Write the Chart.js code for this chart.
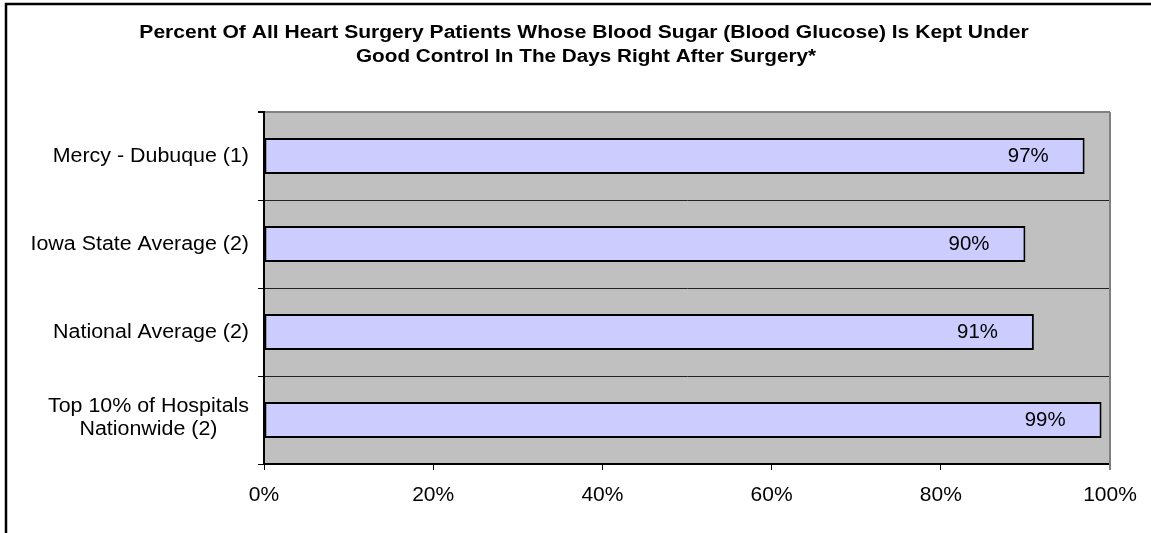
<!DOCTYPE html>
<html>
<head>
<meta charset="utf-8">
<title>Blood Sugar Control</title>
<script src="https://cdn.jsdelivr.net/npm/chart.js@4.4.1/dist/chart.umd.min.js"></script>
<style>
  body { margin: 0; background: #fff; }
  canvas { display: block; }
</style>
</head>
<body>
<canvas id="myChart" width="1151" height="533"></canvas>
<script>
var categories = [
  "Mercy - Dubuque (1)",
  "Iowa State Average (2)",
  "National Average (2)",
  ["Top 10% of Hospitals", "Nationwide (2)"]
];
var percents = [97, 90, 91, 99];
var xTicks = [0, 20, 40, 60, 80, 100];
var titleLines = [
  "Percent Of All Heart Surgery Patients Whose Blood Sugar (Blood Glucose) Is Kept Under",
  "Good Control In The Days Right After Surgery*"
];

var font = "Liberation Sans, Arial, sans-serif";

// text squeezed/stretched sideways, the source picture is a bit wider than tall
function wideText(c, txt, x, y, sx) {
  c.save();
  c.translate(x, y);
  c.scale(sx, 1);
  c.fillText(txt, 0, 0);
  c.restore();
}

// background, frame, title, category labels and value labels
var decor = {
  id: "decor",
  beforeDraw: function (chart) {
    var c = chart.ctx, a = chart.chartArea;
    c.save();
    c.fillStyle = "#fff";
    c.fillRect(0, 0, chart.width, chart.height);
    c.fillStyle = "#c0c0c0";
    c.fillRect(a.left, a.top, a.right - a.left, a.bottom - a.top);
    c.restore();
  },
  beforeDatasetsDraw: function (chart) {
    var c = chart.ctx, a = chart.chartArea;
    c.save();
    c.strokeStyle = "#808080";
    c.lineWidth = 2;
    c.beginPath();
    c.moveTo(a.right, a.top);
    c.lineTo(a.right, a.bottom + 6);
    c.stroke();
    c.restore();
  },
  afterDraw: function (chart) {
    var c = chart.ctx;
    var y = chart.scales.y;
    c.save();
    // outer frame, runs off the right and bottom edge
    c.strokeStyle = "#000";
    c.lineWidth = 2.5;
    c.strokeRect(6, 4, chart.width + 20, chart.height + 20);

    c.fillStyle = "#000";
    c.textAlign = "center";
    c.textBaseline = "middle";
    c.font = "bold 18px " + font;
    wideText(c, titleLines[0], 584, 33, 1.17);
    wideText(c, titleLines[1], 586, 57, 1.15);

    c.font = "20px " + font;
    var sx = 1.07;
    categories.forEach(function (lab, i) {
      var lines = Array.isArray(lab) ? lab : [lab];
      var w = 0;
      lines.forEach(function (l) { w = Math.max(w, c.measureText(l).width * sx); });
      var cx = 249 - w / 2;
      var cy = y.getPixelForValue(i) - (lines.length - 1) * 23 / 2 - (lines.length > 1 ? 2 : 0);
      lines.forEach(function (l, k) {
        wideText(c, l, cx, cy + k * 23, sx);
      });
    });

    c.textAlign = "right";
    chart.getDatasetMeta(0).data.forEach(function (bar, i) {
      wideText(c, percents[i] + "%", bar.x - 36, bar.y, 1.02);
    });
    c.restore();
  }
};

var chart = new Chart(document.getElementById("myChart").getContext("2d"), {
  type: "bar",
  data: {
    labels: categories,
    datasets: [{
      data: percents,
      backgroundColor: "#ccccff",
      borderColor: "#000",
      borderWidth: 2,
      borderSkipped: false,
      categoryPercentage: 1,
      barPercentage: 0.41
    }]
  },
  options: {
    indexAxis: "y",
    responsive: false,
    animation: false,
    devicePixelRatio: 1,
    layout: { padding: { top: 112, right: 41, left: 0, bottom: 0 } },
    plugins: {
      legend: { display: false },
      title: { display: false },
      tooltip: { enabled: false }
    },
    scales: {
      x: {
        min: 0,
        max: 100,
        afterFit: function (s) { s.height = 69; },
        afterBuildTicks: function (s) {
          s.ticks = xTicks.map(function (v) { return { value: v }; });
        },
        grid: { drawOnChartArea: false, drawTicks: true, tickLength: 6, color: "#000" },
        border: { color: "#000", width: 2 },
        ticks: {
          callback: function (v) { return v + "%"; },
          color: "#000",
          padding: 13,
          maxRotation: 0,
          font: { family: font, size: 21 }
        }
      },
      y: {
        afterFit: function (s) { s.width = 264; },
        grid: {
          offset: true,
          tickLength: 6,
          tickColor: "#000",
          color: function (ctx) { return ctx.index === 0 ? "#808080" : "#222"; },
          lineWidth: function (ctx) { return ctx.index === 0 ? 2 : 1; }
        },
        border: { color: "#000", width: 2 },
        ticks: { display: false }
      }
    }
  },
  plugins: [decor]
});
</script>
</body>
</html>
